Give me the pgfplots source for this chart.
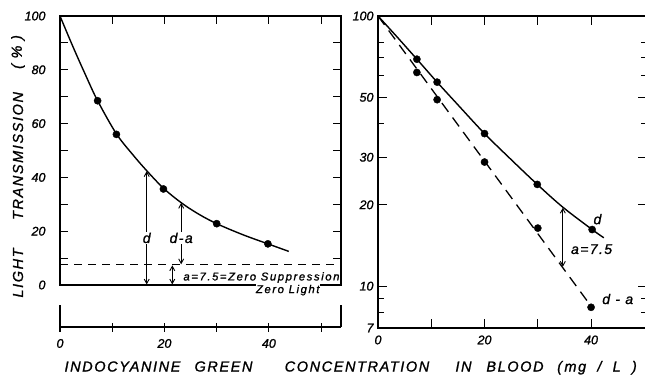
\documentclass[border=0pt]{standalone}
\usepackage{fontspec}
\setmainfont{Liberation Sans}
\newfontfamily\lab[LetterSpace=11,FakeBold=1.2]{Liberation Sans}
\newfontfamily\ann[LetterSpace=10,FakeBold=1.2]{Liberation Sans}
\newfontfamily\annw[LetterSpace=14,FakeBold=1.2]{Liberation Sans}
\newfontfamily\tck[FakeBold=1.2]{Liberation Sans}
\usepackage{pgfplots}
\pgfplotsset{compat=1.18}
\usetikzlibrary{arrows.meta}
\begin{document}
\begin{tikzpicture}[x=1pt,y=1pt]
\pgfplotsset{
  common/.style={scale only axis, anchor=south west,
    axis line style={line width=1.1pt},
    every tick/.style={black, line width=1.1pt},
    tick align=inside, major tick length=9pt, minor tick length=6pt,
    /pgf/number format/assume math mode=true,
    ticklabel style={font=\tck\fontsize{12.5}{12.5}\selectfont\itshape},
    clip=false},
  arr/.style={line width=0.9pt, {Straight Barb[length=4.5pt,width=5pt]}-{Straight Barb[length=4.5pt,width=5pt]}},
}
% ---------------- left panel, upper part ----------------
\begin{axis}[common, at={(60pt,90pt)}, width=281pt, height=269pt,
  xmin=0, xmax=53.8, ymin=0, ymax=100,
  xtick={10,20,30,40,50}, xtick pos=right, xticklabels={},
  ytick={0,10,...,100}, yticklabels={0,,20,,40,,60,,80,,100},
  ytick pos=both, yticklabel pos=left, yticklabel style={xshift=-11pt},
  major tick length=8pt]
\addplot[line width=1.4pt, smooth, tension=0.55] coordinates {
 (0,100) (2.5,88.5) (5,77.6) (7.2,68.5) (10.8,56.2) (14,48.3) (16.6,42.5)
 (19.8,36) (23.2,30.6) (26.5,26.4) (30,22.8) (35,18.7) (39.8,15.3) (43.8,12.5)};
\addplot[only marks, mark=*, mark size=3.6pt] coordinates {
 (7.2,68.5) (10.8,56) (19.8,35.7) (30,22.8) (39.8,15.3)};
\addplot[line width=1.1pt, dash pattern=on 8pt off 6pt] coordinates {(0,7.5) (53.8,7.5)};
\addplot[arr] coordinates {(16.6,0.2) (16.6,42.3)};
\addplot[arr] coordinates {(23.2,7.7) (23.2,30.5)};
\addplot[arr] coordinates {(21.5,0.2) (21.5,7.3)};
\node[fill=white, inner sep=1pt, font=\ann\fontsize{14}{14}\selectfont\itshape] at (axis cs:16.6,17.5) {d};
\node[fill=white, inner sep=1pt, font=\ann\fontsize{14}{14}\selectfont\itshape] at (axis cs:23.2,17.5) {d-a};
\node[anchor=base west, inner sep=0pt, font=\annw\fontsize{11.3}{11.3}\selectfont\itshape] at (axis cs:23.6,1.7) {a=7.5=Zero Suppression};
\node[anchor=base east, fill=white, inner sep=0.4pt, font=\annw\fontsize{11.3}{11.3}\selectfont\itshape] at (axis cs:49.8,-3.0) {Zero Light};
\end{axis}
% ---------------- left panel, lower x axis ----------------
\begin{axis}[common, at={(60pt,48pt)}, width=281pt, height=22pt,
  xmin=0, xmax=53.8, ymin=0, ymax=1,
  axis x line=bottom, axis y line=box,
  x axis line style={-}, y axis line style={-},
  ytick=\empty, xtick={0,10,...,50}, xticklabels={0,,20,,40,},
  xticklabel style={yshift=-4pt}]
\addplot[draw=none] coordinates {(0,0.5)};
\end{axis}
% ---------------- right panel ----------------
\begin{axis}[common, at={(378pt,47pt)}, width=269pt, height=312pt,
  xmin=0, xmax=50.5, ymode=log, ymin=7, ymax=100,
  ytick={7,10,20,30,50,100}, yticklabels={7,10,20,30,50,100},
  minor ytick={8,9,40,60,70,80},
  xtick={0,10,20,30,40}, xticklabels={0,,20,,40},
  yticklabel pos=left, yticklabel style={xshift=-1pt}, xticklabel style={yshift=-4pt}]
\addplot[line width=1.4pt, smooth, tension=0.55] coordinates {
 (0,100) (3.5,84) (7.3,69.2) (11.1,56.9) (15,46.9) (20,36.7) (25,29.4)
 (29.9,23.8) (34.7,19.6) (40.2,16.2) (42.4,15.1)};
\addplot[only marks, mark=*, mark size=3.6pt] coordinates {
 (7.3,69.2) (11.1,56.9) (20,36.7) (29.9,23.8) (40.2,16.2)};
\addplot[line width=1.3pt, dash pattern=on 11pt off 7pt] coordinates {(0,100) (39.3,8.8)};
\addplot[only marks, mark=*, mark size=3.6pt] coordinates {
 (7.3,61.8) (11.1,49) (20,28.8) (30,16.4) (40,8.35)};
\addplot[arr] coordinates {(34.7,11.8) (34.7,19.5)};
\node[font=\ann\fontsize{14}{14}\selectfont\itshape] at (axis cs:41.2,17.7) {d};
\node[font=\ann\fontsize{14}{14}\selectfont\itshape] at (axis cs:40.1,13.7) {a=7.5};
\node[font=\ann\fontsize{14}{14}\selectfont\itshape] at (axis cs:45,8.96) {d - a};
\end{axis}
% ---------------- axis titles ----------------
\begin{scope}[every node/.style={font=\lab\fontsize{14.5}{14.5}\selectfont\itshape, inner sep=0pt}]
\node[rotate=90] at (18,102) {LIGHT};
\node[rotate=90] at (18,219) {TRANSMISSION};
\node[rotate=90] at (18,323) {( \% )};
\node[anchor=base] at (122.5,3.5) {INDOCYANINE};
\node[anchor=base] at (223.5,3.5) {GREEN};
\node[anchor=base] at (357,3.5) {CONCENTRATION};
\node[anchor=base] at (463.5,3.5) {IN};
\node[anchor=base] at (515,3.5) {BLOOD};
\node[anchor=base] at (597,3.5) {(\,mg\ \ /\ \ L\ \ )};
\end{scope}
\pgfresetboundingbox
\useasboundingbox (0,0) rectangle (645,375);
\end{tikzpicture}
\end{document}
